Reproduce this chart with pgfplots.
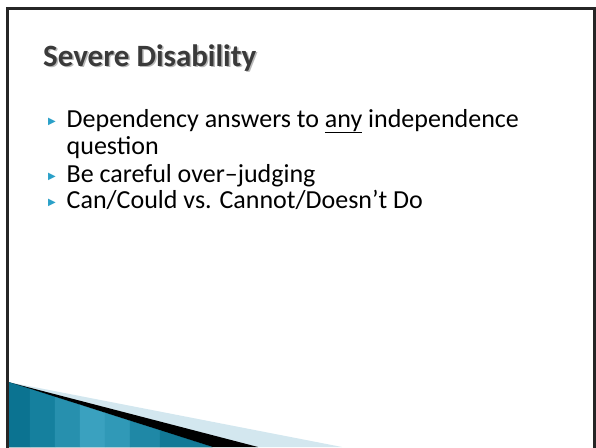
\documentclass[border=0pt]{standalone}
\usepackage{pgfplots}
\pgfplotsset{compat=1.18}
\usepackage{fontspec}
\setmainfont{Carlito}
\newfontfamily\symfont{DejaVu Sans}
\definecolor{frame}{HTML}{262626}
\definecolor{titlec}{HTML}{3A3A3A}
\definecolor{shadowc}{HTML}{B8B8B8}
\definecolor{bul}{HTML}{2AA0C8}
\definecolor{pale}{HTML}{D3E7EF}
\definecolor{b1}{HTML}{0B7391}
\definecolor{b2}{HTML}{15809E}
\definecolor{b3}{HTML}{2790AE}
\definecolor{b4}{HTML}{3AA1BF}
\definecolor{b5}{HTML}{3099B7}
\definecolor{b6}{HTML}{1F88A6}
\definecolor{b7}{HTML}{127996}
\begin{document}
\begin{tikzpicture}
\begin{axis}[
  width=596pt, height=447pt, scale only axis,
  xmin=0, xmax=596, ymin=0, ymax=447, y dir=reverse,
  hide axis, clip=true,
]
% bounding corners
\addplot[draw=none] coordinates {(0,0) (596,447)};
% decorative wedge
\addplot[draw=none, fill=pale] coordinates {(8,382) (342,447) (8,447)} -- cycle;
\addplot[draw=none, fill=black] coordinates {(8,382) (258,447) (8,447)} -- cycle;
\addplot[draw=b1, line width=0.3pt, fill=b1] coordinates {(8,382) (30,389.0) (30,447) (8,447)} -- cycle;
\addplot[draw=b2, line width=0.3pt, fill=b2] coordinates {(30,389.0) (55,397.0) (55,447) (30,447)} -- cycle;
\addplot[draw=b3, line width=0.3pt, fill=b3] coordinates {(55,397.0) (80,404.9) (80,447) (55,447)} -- cycle;
\addplot[draw=b4, line width=0.3pt, fill=b4] coordinates {(80,404.9) (105,412.9) (105,447) (80,447)} -- cycle;
\addplot[draw=b5, line width=0.3pt, fill=b5] coordinates {(105,412.9) (130,420.9) (130,447) (105,447)} -- cycle;
\addplot[draw=b6, line width=0.3pt, fill=b6] coordinates {(130,420.9) (160,430.4) (160,447) (130,447)} -- cycle;
\addplot[draw=b7, line width=0.3pt, fill=b7] coordinates {(160,430.4) (212,447) (160,447)} -- cycle;
% frame
\addplot[draw=frame, line width=3pt] coordinates {(7,448) (7,8) (594.5,8) (594.5,448)};
% title
\node[anchor=base west, text=shadowc, inner sep=0pt] at (axis cs:44.5,67.5) {\fontsize{31}{31}\selectfont\bfseries Severe Disability};
\node[anchor=base west, text=titlec, inner sep=0pt] at (axis cs:43,66) {\fontsize{31}{31}\selectfont\bfseries Severe Disability};
% bullets
\node[anchor=base west, inner sep=0pt, text=bul] at (axis cs:48,124) {\symfont\fontsize{10}{10}\selectfont ▶};
\node[anchor=base west, inner sep=0pt, text=bul] at (axis cs:48,179) {\symfont\fontsize{10}{10}\selectfont ▶};
\node[anchor=base west, inner sep=0pt, text=bul] at (axis cs:48,205) {\symfont\fontsize{10}{10}\selectfont ▶};
\node[anchor=base west, inner sep=0pt] at (axis cs:66.5,127) {\fontsize{26}{26}\selectfont Dependency answers to \underline{any} independence};
\node[anchor=base west, inner sep=0pt] at (axis cs:66.5,154) {\fontsize{26}{26}\selectfont question};
\node[anchor=base west, inner sep=0pt] at (axis cs:66.5,182) {\fontsize{26}{26}\selectfont Be careful over–judging};
\node[anchor=base west, inner sep=0pt] at (axis cs:66.5,208) {\fontsize{26}{26}\selectfont Can/Could vs. Cannot/Doesn’t Do};
\end{axis}
\end{tikzpicture}
\end{document}
